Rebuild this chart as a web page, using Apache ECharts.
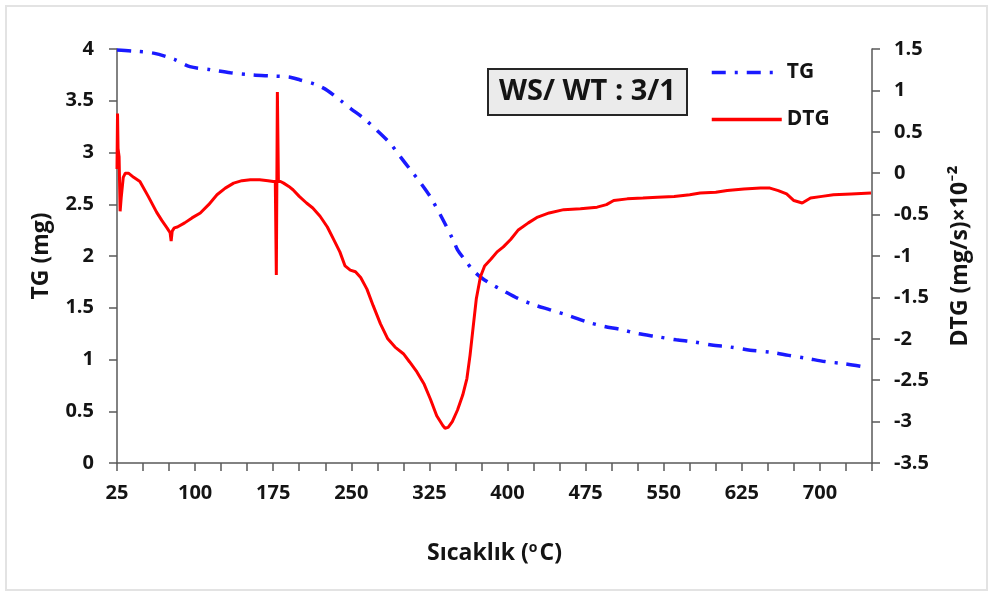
<!DOCTYPE html>
<html><head><meta charset="utf-8">
<script src="https://cdn.jsdelivr.net/npm/echarts@6/dist/echarts.min.js"></script>
<style>html,body{margin:0;padding:0;background:#fff}#c{width:992px;height:594px}</style>
</head><body><div id="c"></div>
<script>
// TG curve (left axis, mg)
const tgTemp = [25, 40, 60, 80, 95, 115, 134, 155, 172, 190, 201, 215, 227, 240, 250, 262, 275, 288, 297, 307, 317, 326, 337, 348, 352, 360, 367, 375, 384, 395, 410, 425, 441, 460, 477, 493, 509, 525, 544, 562, 579, 596, 614, 633, 653, 670, 688, 705, 723, 741];
const tgVal  = [3.99, 3.98, 3.96, 3.90, 3.83, 3.80, 3.77, 3.75, 3.74, 3.73, 3.70, 3.66, 3.60, 3.50, 3.42, 3.33, 3.21, 3.08, 2.96, 2.83, 2.70, 2.57, 2.37, 2.15, 2.06, 1.95, 1.86, 1.79, 1.73, 1.67, 1.59, 1.53, 1.48, 1.42, 1.36, 1.32, 1.29, 1.25, 1.22, 1.19, 1.17, 1.14, 1.12, 1.09, 1.07, 1.04, 1.01, 0.98, 0.96, 0.93];
// DTG curve (right axis, mg/s x10^-2)
const dtgTemp = [25, 25.5, 26, 27, 28, 29, 31, 33, 36, 41, 47, 55, 63, 68, 73, 76, 77, 78, 80, 83, 90, 97, 105, 113, 121, 129, 137, 145, 153, 162, 170, 175, 177, 178, 179, 180, 181, 182, 185, 190, 194, 200, 207, 213, 220, 227, 233, 239, 244, 249, 254, 259, 265, 271, 278, 285, 292, 300, 306, 313, 320, 326, 332, 338, 340, 343, 347, 352, 357, 361, 364, 367, 370, 374, 378, 384, 390, 396, 403, 410, 420, 429, 440, 454, 470, 486, 495, 502, 515, 530, 544, 560, 575, 585, 600, 611, 627, 643, 652, 660, 668, 675, 683, 691, 702, 713, 730, 749];
const dtgVal  = [0.05, 0.72, 0.30, 0.20, -0.46, -0.30, -0.05, 0.00, 0.00, -0.05, -0.10, -0.28, -0.47, -0.57, -0.66, -0.72, -0.82, -0.70, -0.66, -0.65, -0.60, -0.54, -0.48, -0.38, -0.26, -0.18, -0.12, -0.09, -0.08, -0.08, -0.09, -0.10, -0.10, -1.23, 0.98, -0.10, -0.08, -0.10, -0.12, -0.16, -0.20, -0.28, -0.36, -0.42, -0.52, -0.65, -0.80, -0.95, -1.12, -1.17, -1.19, -1.26, -1.40, -1.60, -1.82, -2.00, -2.10, -2.18, -2.28, -2.40, -2.55, -2.73, -2.93, -3.05, -3.08, -3.07, -3.00, -2.86, -2.68, -2.48, -2.20, -1.86, -1.52, -1.25, -1.12, -1.04, -0.95, -0.89, -0.80, -0.69, -0.60, -0.53, -0.48, -0.44, -0.43, -0.41, -0.38, -0.33, -0.31, -0.30, -0.29, -0.28, -0.26, -0.24, -0.23, -0.21, -0.19, -0.18, -0.18, -0.21, -0.25, -0.33, -0.36, -0.30, -0.28, -0.26, -0.25, -0.24];
const xTicks = [25, 100, 175, 250, 325, 400, 475, 550, 625, 700];

const font = '"Open Sans", Lato, sans-serif';
const axisCol = '#595959';
const txt = '#141414';
const chart = echarts.init(document.getElementById('c'));
chart.setOption({
  animation: false,
  backgroundColor: '#fff',
  grid: {left: 117, right: 120, top: 49, bottom: 131},
  title: {
    text: 'WS/ WT : 3/1', left: 488, top: 69,
    padding: [8, 11, 8, 11],
    backgroundColor: '#ebebeb', borderColor: '#262626', borderWidth: 2,
    textStyle: {fontFamily: font, fontWeight: 'bold', fontSize: 29, lineHeight: 30, color: txt}
  },
  legend: {
    orient: 'vertical', left: 705, top: 55, itemGap: 22,
    itemWidth: 70, itemHeight: 14,
    itemStyle: {opacity: 0},
    lineStyle: {width: 3.5},
    textStyle: {fontFamily: font, fontWeight: 'bold', fontSize: 21, lineHeight: 25, color: txt},
    data: ['TG', 'DTG']
  },
  graphic: [{type: 'rect', shape: {x: 6, y: 6, width: 981, height: 584}, style: {fill: 'none', stroke: '#e3e3e3', lineWidth: 2}, silent: true}],
  xAxis: {
    type: 'value', min: 25, max: 750, interval: 25,
    name: 'Sıcaklık ({s|o}C)', nameLocation: 'middle', nameGap: 78,
    nameTextStyle: {fontFamily: font, fontWeight: 'bold', fontSize: 23, color: txt,
      rich: {s: {fontFamily: font, fontSize: 14, fontWeight: 'bold', verticalAlign: 'top', padding: [0, 2, 10, 0], color: txt}}},
    axisLine: {lineStyle: {color: axisCol, width: 1.5}},
    axisTick: {inside: false, length: 8, lineStyle: {color: axisCol, width: 1.5}},
    splitLine: {show: false},
    axisLabel: {fontFamily: font, fontWeight: 'bold', fontSize: 20, color: txt, margin: 20,
      formatter: v => xTicks.includes(v) ? String(v) : ''}
  },
  yAxis: [{
    type: 'value', min: 0, max: 4, interval: 0.5, position: 'left',
    name: 'TG (mg)', nameLocation: 'middle', nameGap: 64, nameRotate: 90,
    nameTextStyle: {fontFamily: font, fontWeight: 'bold', fontSize: 23, color: txt},
    axisLine: {show: true, lineStyle: {color: axisCol, width: 1.5}},
    axisTick: {show: true, inside: false, length: 8, lineStyle: {color: axisCol, width: 1.5}},
    splitLine: {show: false},
    axisLabel: {fontFamily: font, fontWeight: 'bold', fontSize: 20, color: txt, margin: 23}
  }, {
    type: 'value', min: -3.5, max: 1.5, interval: 0.5, position: 'right',
    name: 'DTG (mg/s)×10⁻²', nameLocation: 'middle', nameGap: 77, nameRotate: 90,
    nameTextStyle: {fontFamily: font, fontWeight: 'bold', fontSize: 23, color: txt},
    axisLine: {show: true, lineStyle: {color: axisCol, width: 1.5}},
    axisTick: {show: true, inside: false, length: 8, lineStyle: {color: axisCol, width: 1.5}},
    splitLine: {show: false},
    axisLabel: {fontFamily: font, fontWeight: 'bold', fontSize: 20, color: txt, margin: 22}
  }],
  series: [{
    name: 'TG', type: 'line', yAxisIndex: 0, symbol: 'none', smooth: 0.3,
    color: '#1a1aff',
    lineStyle: {color: '#1a1aff', width: 3.5, type: [14, 9, 3, 9]},
    data: tgTemp.map((t, i) => [t, tgVal[i]])
  }, {
    name: 'DTG', type: 'line', yAxisIndex: 1, symbol: 'none',
    color: '#ff0000',
    lineStyle: {color: '#ff0000', width: 3},
    data: dtgTemp.map((t, i) => [t, dtgVal[i]])
  }]
});
</script></body></html>
